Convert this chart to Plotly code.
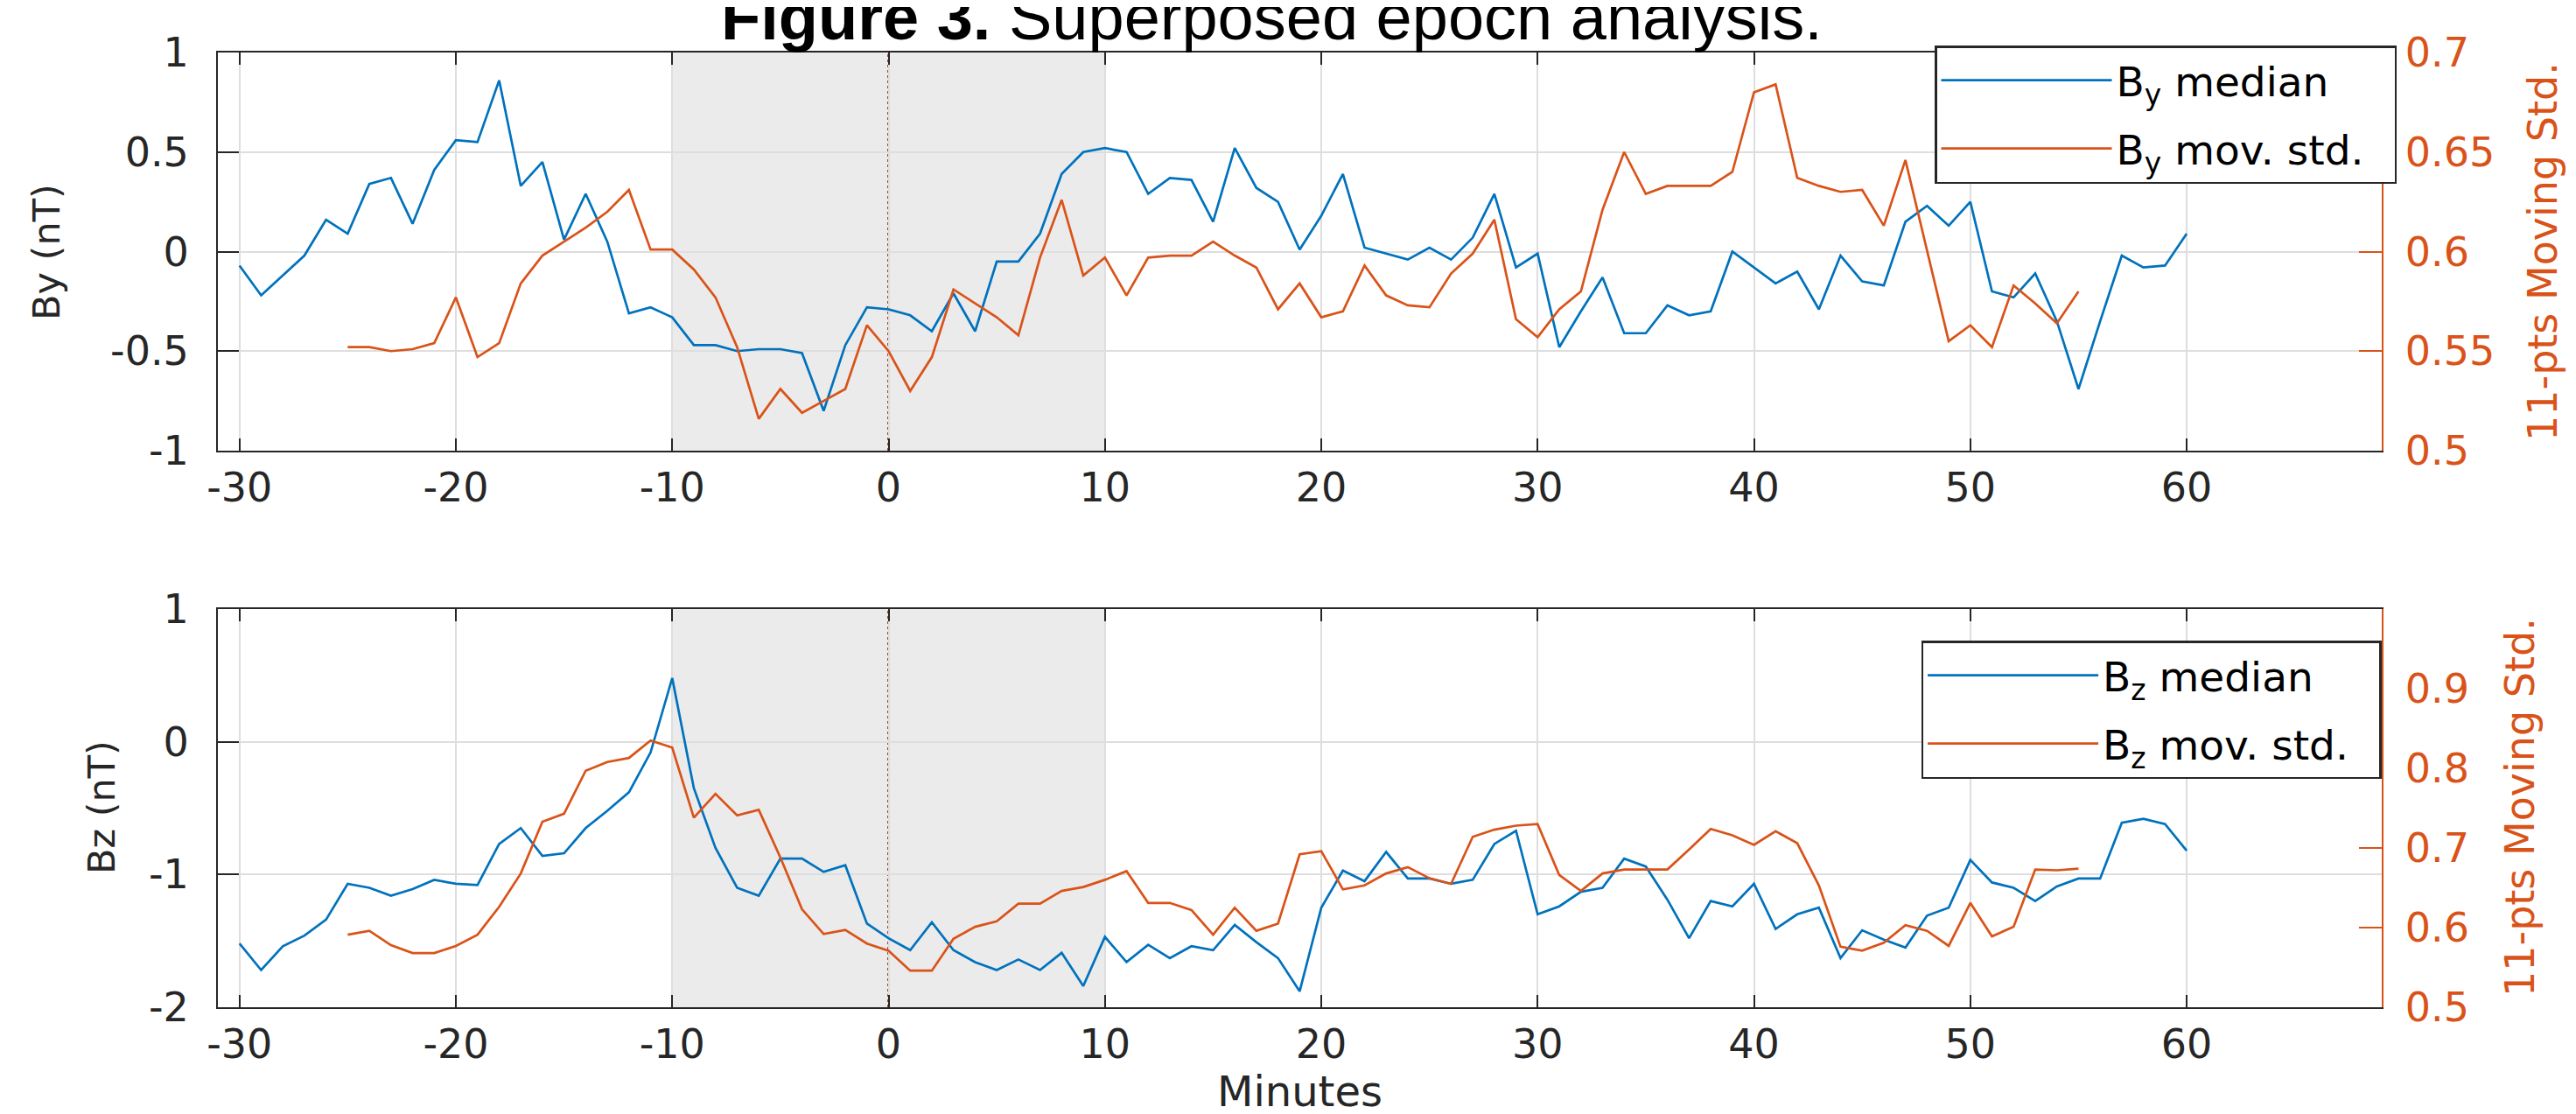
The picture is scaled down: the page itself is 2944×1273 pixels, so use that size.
import plotly.graph_objects as go

# ---------------- data ----------------
t_med = list(range(-30, 61))
t_std = list(range(-25, 56))

by_median = [-0.07, -0.22, -0.12, -0.02, 0.16, 0.09, 0.34, 0.37, 0.14, 0.41,
             0.56, 0.55, 0.86, 0.33, 0.45, 0.06, 0.29, 0.05, -0.31, -0.28,
             -0.33, -0.47, -0.47, -0.50, -0.49, -0.49, -0.51, -0.80, -0.47, -0.28,
             -0.29, -0.32, -0.40, -0.21, -0.40, -0.05, -0.05, 0.09, 0.39, 0.50,
             0.52, 0.50, 0.29, 0.37, 0.36, 0.15, 0.52, 0.32, 0.25, 0.01,
             0.18, 0.39, 0.02, -0.01, -0.04, 0.02, -0.04, 0.07, 0.29, -0.08,
             -0.01, -0.48, -0.30, -0.13, -0.41, -0.41, -0.27, -0.32, -0.30, 0.00,
             -0.08, -0.16, -0.10, -0.29, -0.02, -0.15, -0.17, 0.15, 0.23, 0.13,
             0.25, -0.20, -0.23, -0.11, -0.35, -0.69, -0.35, -0.02, -0.08, -0.07,
             0.09]

by_movstd = [0.552, 0.552, 0.550, 0.551, 0.554, 0.577, 0.547, 0.554, 0.584, 0.598,
             0.605, 0.612, 0.620, 0.631, 0.601, 0.601, 0.591, 0.577, 0.552, 0.516,
             0.531, 0.519, 0.525, 0.531, 0.563, 0.550, 0.530, 0.547, 0.581, 0.574,
             0.567, 0.558, 0.597, 0.626, 0.588, 0.597, 0.578, 0.597, 0.598, 0.598,
             0.605, 0.598, 0.592, 0.571, 0.584, 0.567, 0.570, 0.593, 0.578, 0.573,
             0.572, 0.589, 0.599, 0.616, 0.566, 0.557, 0.571, 0.580, 0.621, 0.650,
             0.629, 0.633, 0.633, 0.633, 0.640, 0.680, 0.684, 0.637, 0.633, 0.630,
             0.631, 0.613, 0.646, 0.601, 0.555, 0.563, 0.552, 0.583, 0.574, 0.564,
             0.580]

bz_median = [-1.52, -1.72, -1.54, -1.46, -1.34, -1.07, -1.10, -1.16, -1.11, -1.04,
             -1.07, -1.08, -0.77, -0.65, -0.86, -0.84, -0.65, -0.52, -0.38, -0.08,
             0.48, -0.35, -0.80, -1.10, -1.16, -0.88, -0.88, -0.98, -0.93, -1.37,
             -1.48, -1.57, -1.36, -1.57, -1.66, -1.72, -1.64, -1.72, -1.59, -1.84,
             -1.47, -1.66, -1.53, -1.63, -1.54, -1.57, -1.38, -1.51, -1.63, -1.88,
             -1.25, -0.97, -1.05, -0.83, -1.03, -1.03, -1.07, -1.04, -0.77, -0.67,
             -1.30, -1.24, -1.13, -1.10, -0.88, -0.94, -1.19, -1.48, -1.20, -1.24,
             -1.07, -1.41, -1.30, -1.25, -1.63, -1.42, -1.49, -1.55, -1.31, -1.25,
             -0.89, -1.06, -1.10, -1.20, -1.09, -1.03, -1.03, -0.61, -0.58, -0.62,
             -0.82]

bz_movstd = [0.591, 0.596, 0.578, 0.568, 0.568, 0.577, 0.591, 0.626, 0.668, 0.733,
             0.743, 0.797, 0.808, 0.813, 0.835, 0.826, 0.738, 0.768, 0.741, 0.748,
             0.688, 0.623, 0.592, 0.597, 0.580, 0.571, 0.546, 0.546, 0.586, 0.601,
             0.608, 0.630, 0.630, 0.646, 0.651, 0.660, 0.671, 0.631, 0.631, 0.622,
             0.591, 0.625, 0.596, 0.605, 0.692, 0.696, 0.648, 0.653, 0.668, 0.676,
             0.662, 0.655, 0.714, 0.723, 0.728, 0.730, 0.666, 0.646, 0.668, 0.673,
             0.673, 0.673, 0.698, 0.724, 0.716, 0.704, 0.721, 0.706, 0.653, 0.576,
             0.571, 0.581, 0.603, 0.596, 0.577, 0.631, 0.589, 0.601, 0.673, 0.672,
             0.674]

x_ticks = [-30, -20, -10, 0, 10, 20, 30, 40, 50, 60]
x_ticktext = ["-30", "-20", "-10", "0", "10", "20", "30", "40", "50", "60"]
by_ticks = [-1, -0.5, 0, 0.5, 1]
by_ticktext = ["-1", "-0.5", "0", "0.5", "1"]
bystd_ticks = [0.5, 0.55, 0.6, 0.65, 0.7]
bystd_ticktext = ["0.5", "0.55", "0.6", "0.65", "0.7"]
bz_ticks = [-2, -1, 0, 1]
bz_ticktext = ["-2", "-1", "0", "1"]
bzstd_ticks = [0.5, 0.6, 0.7, 0.8, 0.9]
bzstd_ticktext = ["0.5", "0.6", "0.7", "0.8", "0.9"]
shade_window = [-10, 10]
epoch_zero = 0

# ---------------- style ----------------
W, H = 2944, 1273
BLUE = "#0072BD"
ORANGE = "#D95319"
AX = "#262626"
GRID = "#dedede"
SHADE = "#ebebeb"
FONT = "DejaVu Sans"
NB = "\u00a0"

def px_x(p):
    return p / W

def px_y(p):
    return 1 - p / H

x_dom = [px_x(241), px_x(2713.6)]
top_dom = [px_y(507), px_y(52)]
bot_dom = [px_y(1143), px_y(688)]

fig = go.Figure()

fig.add_trace(go.Scatter(x=t_med, y=by_median, mode="lines", name="B<sub>y</sub> median",
                         line=dict(color=BLUE, width=2.7), xaxis="x", yaxis="y",
                         legend="legend", legendgroup="a"))
fig.add_trace(go.Scatter(x=t_std, y=by_movstd, mode="lines",
                         name="B<sub>y</sub> mov. std." + NB * 2,
                         line=dict(color=ORANGE, width=2.7), xaxis="x", yaxis="y2",
                         legend="legend", legendgroup="b"))
fig.add_trace(go.Scatter(x=t_med, y=bz_median, mode="lines", name="B<sub>z</sub> median",
                         line=dict(color=BLUE, width=2.7), xaxis="x2", yaxis="y3",
                         legend="legend2", legendgroup="c"))
fig.add_trace(go.Scatter(x=t_std, y=bz_movstd, mode="lines",
                         name="B<sub>z</sub> mov. std." + NB * 2,
                         line=dict(color=ORANGE, width=2.7), xaxis="x2", yaxis="y4",
                         legend="legend2", legendgroup="d"))

common_x = dict(range=[-31, 69], tickvals=x_ticks, ticktext=x_ticktext, ticks="inside",
                ticklen=14, tickwidth=2, automargin=False,
                tickcolor=AX, showline=True, linecolor=AX, linewidth=2, mirror="ticks",
                showgrid=True, gridcolor=GRID, gridwidth=1.5, zeroline=False,
                tickfont=dict(family=FONT, size=46, color=AX), ticklabelstandoff=1)
common_yl = dict(ticks="inside", ticklen=24, tickwidth=2, tickcolor=AX, showline=True,
                 linecolor=AX, linewidth=2, showgrid=True, gridcolor=GRID, gridwidth=1.5,
                 zeroline=False, tickfont=dict(family=FONT, size=46, color=AX),
                 ticklabelstandoff=22, automargin=False)
common_yr = dict(side="right", ticks="inside", ticklen=26, tickwidth=2, tickcolor=ORANGE,
                 showline=True, linecolor=ORANGE, linewidth=2, showgrid=False, zeroline=False,
                 tickfont=dict(family=FONT, size=46, color=ORANGE), ticklabelstandoff=16,
                 automargin=False)

legend_common = dict(xanchor="right", yanchor="top", bgcolor="white", bordercolor=AX,
                     borderwidth=2.5, font=dict(family=FONT, size=47, color="black"),
                     itemwidth=195, tracegroupgap=14, traceorder="grouped")

fig.update_layout(
    width=W, height=H,
    margin=dict(l=0, r=0, t=0, b=0, autoexpand=False),
    paper_bgcolor="white", plot_bgcolor="white",
    xaxis=dict(domain=x_dom, anchor="y", **common_x),
    yaxis=dict(domain=top_dom, anchor="x", range=[-1, 1], tickvals=by_ticks,
               ticktext=by_ticktext, **common_yl),
    yaxis2=dict(overlaying="y", anchor="x", range=[0.5, 0.7], tickvals=bystd_ticks,
                ticktext=bystd_ticktext, **common_yr),
    xaxis2=dict(domain=x_dom, anchor="y3", **common_x),
    yaxis3=dict(domain=bot_dom, anchor="x2", range=[-2, 1], tickvals=bz_ticks,
                ticktext=bz_ticktext, **common_yl),
    yaxis4=dict(overlaying="y3", anchor="x2", range=[0.5, 1.0], tickvals=bzstd_ticks,
                ticktext=bzstd_ticktext, **common_yr),
    legend=dict(x=px_x(2731), y=px_y(44), **legend_common),
    legend2=dict(x=px_x(2713.6), y=px_y(724), **legend_common),
    showlegend=True,
)

# shaded window and epoch line
for xr, yr in (("x", "y"), ("x2", "y3")):
    fig.add_shape(type="rect", xref=xr, yref=yr + " domain", x0=shade_window[0], x1=shade_window[1],
                  y0=0, y1=1, fillcolor=SHADE, line=dict(width=0), layer="below")
    fig.add_shape(type="line", xref=xr, yref=yr + " domain", x0=epoch_zero, x1=epoch_zero,
                  y0=0, y1=1, line=dict(color="rgb(165,70,60)", width=3, dash="dot"),
                  layer="below")

# texts
fig.add_annotation(text="<b>Figure 3.</b> Superposed epoch analysis.", xref="paper", yref="paper",
                   x=px_x(1445), y=px_y(55), xanchor="center", yanchor="bottom", showarrow=False,
                   font=dict(family="Liberation Sans", size=74, color="black"))
fig.add_annotation(text="By (nT)", xref="paper", yref="paper", x=px_x(45), y=px_y(280),
                   textangle=-90, showarrow=False, xanchor="center", yanchor="middle",
                   font=dict(family=FONT, size=43, color=AX))
fig.add_annotation(text="Bz (nT)", xref="paper", yref="paper", x=px_x(108), y=px_y(915),
                   textangle=-90, showarrow=False, xanchor="center", yanchor="middle",
                   font=dict(family=FONT, size=43, color=AX))
fig.add_annotation(text="11-pts Moving Std.", xref="paper", yref="paper", x=px_x(2898), y=px_y(280),
                   textangle=-90, showarrow=False, xanchor="center", yanchor="middle",
                   font=dict(family=FONT, size=46, color=ORANGE))
fig.add_annotation(text="11-pts Moving Std.", xref="paper", yref="paper", x=px_x(2872), y=px_y(915),
                   textangle=-90, showarrow=False, xanchor="center", yanchor="middle",
                   font=dict(family=FONT, size=46, color=ORANGE))
fig.add_annotation(text="Minutes", xref="paper", yref="paper", x=px_x(1477), y=px_y(1239),
                   showarrow=False, xanchor="center", yanchor="middle", borderpad=0,
                   font=dict(family=FONT, size=48, color=AX))

fig.write_html("out.html")
